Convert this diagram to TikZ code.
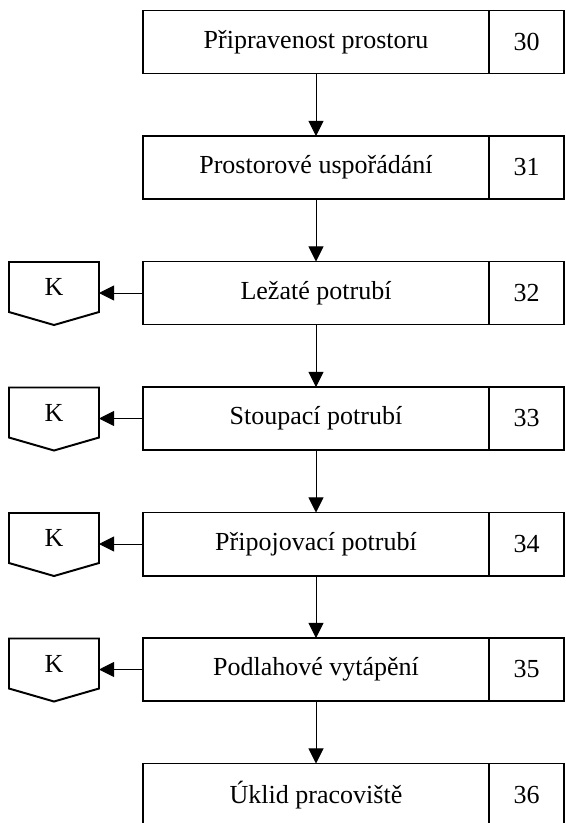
\documentclass[tikz,border=0pt]{standalone}
\usepackage{fontspec}
\setmainfont{Liberation Serif}
\usetikzlibrary{arrows.meta, positioning, calc}

\begin{document}
\begin{tikzpicture}[x=0.025cm, y=-0.025cm,
    stage/.style={draw, line width=1.4pt, outer sep=0pt, inner sep=0pt, minimum width=8.65cm, minimum height=1.575cm, font=\fontsize{18.5}{22}\selectfont},
    num/.style={draw, line width=1.4pt, outer sep=0pt, inner sep=0pt, minimum width=1.875cm, minimum height=1.575cm, font=\fontsize{18.5}{22}\selectfont},
    kmark/.style={inner sep=0pt, outer sep=0pt, minimum width=2.25cm, minimum height=1.25cm, font=\fontsize{18.5}{22}\selectfont},
    kline/.style={line width=1.4pt, line join=miter},
    arrow/.style={-{Triangle[length=3.8mm, width=3.8mm]}, line width=0.7pt},
]
\useasboundingbox (0,0) rectangle (566,823);

% main sequence
\node[stage] (s30) at (316,42) {Připravenost prostoru};
\node[stage] (s31) at (316,167.5) {Prostorové uspořádání};
\node[stage] (s32) at (316,293) {Ležaté potrubí};
\node[stage] (s33) at (316,418.5) {Stoupací potrubí};
\node[stage] (s34) at (316,544) {Připojovací potrubí};
\node[stage] (s35) at (316,669.5) {Podlahové vytápění};
\node[stage] (s36) at (316,795) {Úklid pracoviště};

% numbers
\node[num, right=0pt of s30] (n30) {30};
\node[num, right=0pt of s31] (n31) {31};
\node[num, right=0pt of s32] (n32) {32};
\node[num, right=0pt of s33] (n33) {33};
\node[num, right=0pt of s34] (n34) {34};
\node[num, right=0pt of s35] (n35) {35};
\node[num, right=0pt of s36] (n36) {36};

\draw[arrow] (s30) -- (s31);
\draw[arrow] (s31) -- (s32);
\draw[arrow] (s32) -- (s33);
\draw[arrow] (s33) -- (s34);
\draw[arrow] (s34) -- (s35);
\draw[arrow] (s35) -- (s36);

% K marks
\node[kmark] (k32) at (54,287) {K};
\node[kmark] (k33) at (54,412.5) {K};
\node[kmark] (k34) at (54,538) {K};
\node[kmark] (k35) at (54,663.5) {K};

\draw[kline] (k32.north west) -- (k32.north east) -- (k32.south east) -- ($(k32.south)+(0,13)$) -- (k32.south west) -- cycle;
\draw[kline] (k33.north west) -- (k33.north east) -- (k33.south east) -- ($(k33.south)+(0,13)$) -- (k33.south west) -- cycle;
\draw[kline] (k34.north west) -- (k34.north east) -- (k34.south east) -- ($(k34.south)+(0,13)$) -- (k34.south west) -- cycle;
\draw[kline] (k35.north west) -- (k35.north east) -- (k35.south east) -- ($(k35.south)+(0,13)$) -- (k35.south west) -- cycle;

\draw[arrow] (s32.west) -- (s32.west -| k32.east);
\draw[arrow] (s33.west) -- (s33.west -| k33.east);
\draw[arrow] (s34.west) -- (s34.west -| k34.east);
\draw[arrow] (s35.west) -- (s35.west -| k35.east);

\end{tikzpicture}
\end{document}
